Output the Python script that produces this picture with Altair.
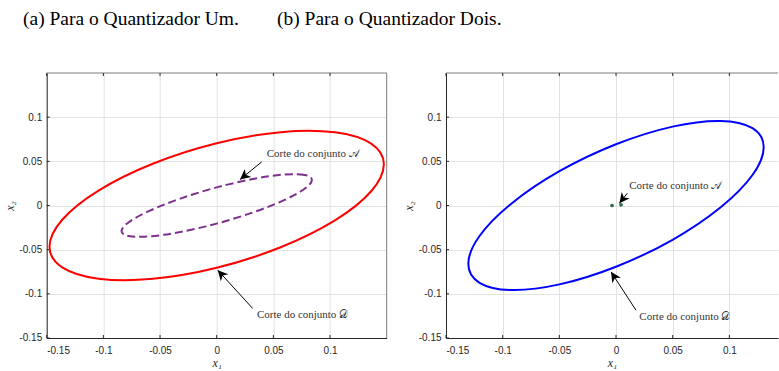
import math
import altair as alt
import pandas as pd

# ---- data -------------------------------------------------------------
# (a) quantizer one: cut of set D (solid red) and cut of set A (dashed purple)
red_x = [0.1475, 0.1363, 0.1043, 0.0564, 0.0, -0.0564, -0.1043, -0.1363,
         -0.1475, -0.1363, -0.1043, -0.0564, 0.0, 0.0564, 0.1043, 0.1363]
red_y = [0.0466, 0.0700, 0.0828, 0.0830, 0.0705, 0.0473, 0.0169, -0.0161,
         -0.0466, -0.0700, -0.0828, -0.0830, -0.0705, -0.0473, -0.0169, 0.0161]
purple_x = [0.0840, 0.0776, 0.0594, 0.0321, 0.0, -0.0321, -0.0594, -0.0776,
            -0.0840, -0.0776, -0.0594, -0.0321, 0.0, 0.0321, 0.0594, 0.0776]
purple_y = [0.0290, 0.0346, 0.0350, 0.0300, 0.0205, 0.0078, -0.0060, -0.0189,
            -0.0290, -0.0346, -0.0350, -0.0300, -0.0205, -0.0078, 0.0060, 0.0189]

# (b) quantizer two: cut of set D (solid blue) and the tiny cut of set A
blue_x = [0.1303, 0.1204, 0.0921, 0.0499, 0.0, -0.0499, -0.0921, -0.1204,
          -0.1303, -0.1204, -0.0921, -0.0499, 0.0, 0.0499, 0.0921, 0.1204]
blue_y = [0.0660, 0.0875, 0.0957, 0.0893, 0.0693, 0.0388, 0.0023, -0.0345,
          -0.0660, -0.0875, -0.0957, -0.0893, -0.0693, -0.0388, -0.0023, 0.0345]
green_x = [-0.0035, 0.0044]
green_y = [0.0000, 0.0008]

# annotations: label position, arrow tail and arrow head
ann_a_text = ["Corte do conjunto 𝒜", "Corte do conjunto 𝒟"]
ann_a_tx = [0.0441, 0.0356]
ann_a_ty = [0.0586, -0.1242]
ann_a_tail_x = [0.0397, 0.0318]
ann_a_tail_y = [0.0494, -0.1166]
ann_a_head_x = [0.0206, 0.0009]
ann_a_head_y = [0.0294, -0.0732]

ann_b_text = ["Corte do conjunto 𝒜", "Corte do conjunto 𝒟"]
ann_b_tx = [0.0117, 0.0206]
ann_b_ty = [0.0225, -0.1260]
ann_b_tail_x = [0.0100, 0.0176]
ann_b_tail_y = [0.0140, -0.1185]
ann_b_head_x = [0.0030, -0.0044]
ann_b_head_y = [0.0025, -0.0751]

tick_vals = [-0.15, -0.1, -0.05, 0, 0.05, 0.1]
titles = ["(a) Para o Quantizador Um.", "(b) Para o Quantizador Dois."]

# ---- styling ----------------------------------------------------------
H = 265
YMIN, YMAX = -0.15, 0.15
AXIS_COLOR = "#262626"
BOX_COLOR = "#7a7a7a"
GRID_COLOR = "#e2e2e2"
SERIF = "'Liberation Serif', 'Times New Roman', 'DejaVu Serif', serif"
SANS = "'Liberation Sans', Arial, sans-serif"
ARROW = "M0,0L-0.5,1L0,0.72L0.5,1Z"


def axes(W):
    ax_x = alt.Axis(values=tick_vals, labelExpr="'' + datum.value",
                    title="x₁", titleFont=SERIF, titleFontStyle="italic",
                    titleFontWeight="normal", titleFontSize=12,
                    titleColor=AXIS_COLOR, titleBaseline="alphabetic",
                    titleY=28.5, titleX=W / 2,
                    labelFont=SANS, labelFontSize=10, labelColor=AXIS_COLOR,
                    labelPadding=8, ticks=False, tickSize=0,
                    domainColor=AXIS_COLOR, domainWidth=1,
                    grid=True, gridColor=GRID_COLOR, gridWidth=1)
    ax_y = alt.Axis(values=tick_vals, labelExpr="'' + datum.value",
                    title="x₂", titleFont=SERIF, titleFontStyle="italic",
                    titleFontWeight="normal", titleFontSize=12,
                    titleColor=AXIS_COLOR, titleAngle=270,
                    titleBaseline="middle", titleAlign="center",
                    titleX=-37, titleY=H / 2,
                    labelFont=SANS, labelFontSize=10, labelColor=AXIS_COLOR,
                    labelPadding=5, ticks=False, tickSize=0,
                    domainColor=AXIS_COLOR, domainWidth=1,
                    grid=True, gridColor=GRID_COLOR, gridWidth=1)
    return ax_x, ax_y


def panel(W, xmax, curves, dots, ann, title, title_dx, right_border):
    ax_x, ax_y = axes(W)
    xs = alt.Scale(domain=[-0.15, xmax], nice=False, zero=False)
    ys = alt.Scale(domain=[YMIN, YMAX], nice=False, zero=False)

    def X(f):
        return alt.X(f, type="quantitative", scale=xs, axis=ax_x)

    def Y(f):
        return alt.Y(f, type="quantitative", scale=ys, axis=ax_y)

    layers = []
    # frame: top border, optional right border, inward tick marks
    top = pd.DataFrame({"k": [0]})
    layers.append(alt.Chart(top).mark_rule(color=BOX_COLOR, strokeWidth=1).encode(
        x=alt.value(0), x2=alt.value(W), y=alt.value(0)))
    if right_border:
        layers.append(alt.Chart(top).mark_rule(color=BOX_COLOR, strokeWidth=1).encode(
            x=alt.value(W), y=alt.value(0), y2=alt.value(H)))
    tk = pd.DataFrame({"v": tick_vals})
    layers.append(alt.Chart(tk).mark_rule(color=AXIS_COLOR, strokeWidth=1).encode(
        x=X("v"), y=alt.value(H), y2=alt.value(H - 3)))
    layers.append(alt.Chart(tk).mark_rule(color=AXIS_COLOR, strokeWidth=1).encode(
        x=X("v"), y=alt.value(0), y2=alt.value(3)))
    layers.append(alt.Chart(tk).mark_rule(color=AXIS_COLOR, strokeWidth=1).encode(
        y=Y("v"), x=alt.value(0), x2=alt.value(3)))

    for cx, cy, color, dash in curves:
        df = pd.DataFrame({"x": cx, "y": cy, "i": list(range(len(cx)))})
        kw = dict(interpolate="cardinal-closed", color=color, strokeWidth=2)
        if dash:
            kw["strokeDash"] = dash
        layers.append(alt.Chart(df).mark_line(**kw).encode(
            x=X("x"), y=Y("y"), order=alt.Order("i:Q")))

    if dots:
        dx_, dy_, dcol = dots
        dd = pd.DataFrame({"x": dx_, "y": dy_})
        layers.append(alt.Chart(dd).mark_point(filled=True, size=14, color=dcol,
                                               opacity=1).encode(x=X("x"), y=Y("y")))

    text, tx, ty, sx, sy, hx, hy = ann
    kx = W / (xmax + 0.15)
    ky = H / (YMAX - YMIN)
    ang = []
    for a, b, c, d in zip(sx, sy, hx, hy):
        ddx = (c - a) * kx
        ddy = -(d - b) * ky
        ang.append(math.degrees(math.atan2(ddx, -ddy)) % 360)
    ad = pd.DataFrame({"sx": sx, "sy": sy, "hx": hx, "hy": hy, "ang": ang})
    layers.append(alt.Chart(ad).mark_rule(color="black", strokeWidth=1).encode(
        x=X("sx"), y=Y("sy"), x2=alt.X2("hx"), y2=alt.Y2("hy")))
    layers.append(alt.Chart(ad).mark_point(shape=ARROW, filled=True, size=420,
                                           color="black", opacity=1).encode(
        x=X("hx"), y=Y("hy"), angle=alt.Angle("ang:Q", scale=None)))
    td = pd.DataFrame({"t": text, "x": tx, "y": ty})
    layers.append(alt.Chart(td).mark_text(align="left", baseline="middle",
                                          font=SERIF, fontSize=11,
                                          color="#333333").encode(
        x=X("x"), y=Y("y"), text="t:N"))

    # sub-figure caption
    cap = pd.DataFrame({"t": [title]})
    layers.append(alt.Chart(cap).mark_text(align="left", baseline="alphabetic",
                                           font=SERIF, fontSize=19.5,
                                           color="black").encode(
        x=alt.value(title_dx), y=alt.value(-47.7), text="t:N"))

    return alt.layer(*layers).properties(width=W, height=H)


left = panel(340, 0.15,
             [(red_x, red_y, "#ff0000", None),
              (purple_x, purple_y, "#7e2f8e", [8, 4])],
             None,
             (ann_a_text, ann_a_tx, ann_a_ty, ann_a_tail_x, ann_a_tail_y,
              ann_a_head_x, ann_a_head_y),
             titles[0], -23.7, True)

right = panel(332, 0.1429,
              [(blue_x, blue_y, "#0000ff", None)],
              (green_x, green_y, "#2e6e4e"),
              (ann_b_text, ann_b_tx, ann_b_ty, ann_b_tail_x, ann_b_tail_y,
               ann_b_head_x, ann_b_head_y),
              titles[1], -169, False)

chart = alt.hconcat(left, right, spacing=59.3, bounds="flush").properties(
    padding={"left": 3.7, "top": 9, "right": 0, "bottom": 0}
).configure_view(stroke=None)

chart.save("out.html", embed_options={"renderer": "svg", "actions": False})
